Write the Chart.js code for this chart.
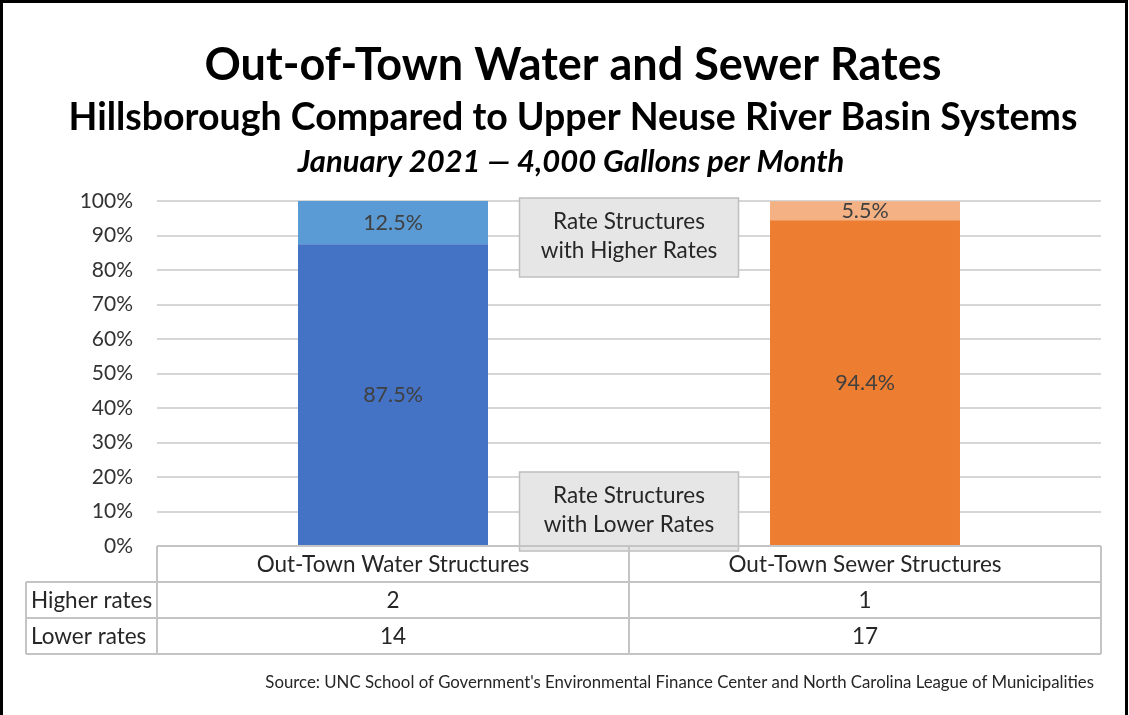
<!DOCTYPE html>
<html>
<head>
<meta charset="utf-8">
<script src="https://cdn.jsdelivr.net/npm/chart.js@4.4.0/dist/chart.umd.min.js"></script>
<style>
  html, body { margin: 0; padding: 0; background: #ffffff; }
  #wrap { width: 1129px; height: 715px; position: relative; }
</style>
</head>
<body>
<div id="wrap"><canvas id="c" width="1129" height="715"></canvas></div>
<script>
// Rate structure categories and their shares (percent of systems)
const categories = ['Out-Town Water Structures', 'Out-Town Sewer Structures'];
const lowerShare = [87.5, 94.4];
const higherShare = [12.5, 5.5];

// Counts shown in the data table beneath the plot
const tableRows = ['Higher rates', 'Lower rates'];
const higherCounts = [2, 1];
const lowerCounts = [14, 17];

// Y axis tick values
const yTickValues = [0, 10, 20, 30, 40, 50, 60, 70, 80, 90, 100];

// Headings, callouts and source line
const titleLines = [
  'Out-of-Town Water and Sewer Rates',
  'Hillsborough Compared to Upper Neuse River Basin Systems',
  'January 2021 \u2014 4,000 Gallons per Month'
];
const calloutHigher = ['Rate Structures', 'with Higher Rates'];
const calloutLower = ['Rate Structures', 'with Lower Rates'];
const sourceText = "Source: UNC School of Government's Environmental Finance Center and North Carolina League of Municipalities";

const FONT = 'Lato, "Open Sans", sans-serif';
const TEXT = '#262626';

const decor = {
  id: 'decor',
  afterDatasetsDraw(chart) {
    const ctx = chart.ctx;
    const area = chart.chartArea;
    const y = chart.scales.y;
    const cx = (area.left + area.right) / 2;

    // value labels centred in each bar segment
    ctx.save();
    ctx.font = '21.5px ' + FONT;
    ctx.fillStyle = '#404040';
    ctx.textAlign = 'center';
    ctx.textBaseline = 'middle';
    chart.data.datasets.forEach((ds, i) => {
      chart.getDatasetMeta(i).data.forEach((bar, j) => {
        const mid = (bar.y + bar.base) / 2;
        ctx.fillText(ds.data[j].toFixed(1) + '%', bar.x, mid);
      });
    });
    ctx.restore();

    // grey callout boxes
    const box = (top, lines) => {
      const w = 219, h = 79;
      ctx.save();
      ctx.fillStyle = '#e7e6e6';
      ctx.strokeStyle = '#bfbfbf';
      ctx.lineWidth = 1.5;
      ctx.fillRect(cx - w / 2, top, w, h);
      ctx.strokeRect(cx - w / 2, top, w, h);
      ctx.fillStyle = TEXT;
      ctx.font = '22.5px ' + FONT;
      ctx.textAlign = 'center';
      ctx.textBaseline = 'middle';
      ctx.fillText(lines[0], cx, top + 24);
      ctx.fillText(lines[1], cx, top + 53);
      ctx.restore();
    };
    box(y.getPixelForValue(100) - 3, calloutHigher);
    box(y.getPixelForValue(0) - 74, calloutLower);
  },
  afterDraw(chart) {
    const ctx = chart.ctx;
    const area = chart.chartArea;
    const W = chart.width;

    // outer frame
    ctx.save();
    ctx.strokeStyle = '#000000';
    ctx.lineWidth = 3;
    ctx.strokeRect(1.5, 1.5, W - 4, 730);
    ctx.restore();

    // headings
    ctx.save();
    ctx.fillStyle = '#000000';
    ctx.textAlign = 'center';
    ctx.textBaseline = 'alphabetic';
    ctx.font = 'bold 45px ' + FONT;
    ctx.fillText(titleLines[0], 573, 80);
    ctx.font = 'bold 37.5px ' + FONT;
    ctx.fillText(titleLines[1], 573, 130);
    ctx.font = 'italic bold 31px ' + FONT;
    ctx.fillText(titleLines[2], 571, 172);
    ctx.restore();

    // data table
    const top = area.bottom;
    const rowH = 36;
    const colMid = (area.left + area.right) / 2;
    const leftX = 26;
    ctx.save();
    ctx.strokeStyle = '#c4c4c4';
    ctx.lineWidth = 2;
    ctx.beginPath();
    // header row
    ctx.moveTo(area.left, top); ctx.lineTo(area.right, top);
    ctx.moveTo(area.left, top); ctx.lineTo(area.left, top + rowH * 3);
    ctx.moveTo(colMid, top); ctx.lineTo(colMid, top + rowH * 3);
    ctx.moveTo(area.right, top); ctx.lineTo(area.right, top + rowH * 3);
    // body rows
    for (let r = 1; r <= 3; r++) {
      ctx.moveTo(leftX, top + rowH * r); ctx.lineTo(area.right, top + rowH * r);
    }
    ctx.moveTo(leftX, top + rowH); ctx.lineTo(leftX, top + rowH * 3);
    ctx.stroke();

    ctx.fillStyle = TEXT;
    ctx.font = '22.5px ' + FONT;
    ctx.textBaseline = 'middle';
    const xs = chart.getDatasetMeta(0).data.map(b => b.x);
    ctx.textAlign = 'center';
    categories.forEach((c, j) => ctx.fillText(c, xs[j], top + rowH / 2 + 1));
    const rowsData = [higherCounts, lowerCounts];
    tableRows.forEach((label, r) => {
      const ry = top + rowH * (r + 1) + rowH / 2 + 1;
      ctx.textAlign = 'left';
      ctx.fillText(label, leftX + 5, ry);
      ctx.textAlign = 'center';
      rowsData[r].forEach((v, j) => ctx.fillText(String(v), xs[j], ry));
    });

    // source line
    ctx.font = '16.8px ' + FONT;
    ctx.textAlign = 'right';
    ctx.fillText(sourceText, 1094, 683);
    ctx.restore();
  }
};

new Chart(document.getElementById('c'), {
  type: 'bar',
  data: {
    labels: categories,
    datasets: [
      { label: 'Lower rates', data: lowerShare, backgroundColor: ['#4472C4', '#ED7D31'] },
      { label: 'Higher rates', data: higherShare, backgroundColor: ['#5B9BD5', '#F4B183'] }
    ]
  },
  options: {
    responsive: false,
    animation: false,
    layout: { padding: { top: 201, bottom: 169, left: 0, right: 28 } },
    datasets: { bar: { categoryPercentage: 1, barPercentage: 0.4025 } },
    plugins: { legend: { display: false }, tooltip: { enabled: false }, title: { display: false } },
    scales: {
      x: { stacked: true, display: false },
      y: {
        stacked: true,
        min: 0,
        max: 100,
        afterBuildTicks(scale) { scale.ticks = yTickValues.map(v => ({ value: v })); },
        afterFit(scale) { scale.width = 157; },
        ticks: {
          callback: v => v + '%',
          padding: 24,
          color: '#333333',
          font: { family: FONT, size: 21 }
        },
        grid: { color: '#d6d6d6', lineWidth: 2, drawTicks: false },
        border: { display: false }
      }
    }
  },
  plugins: [decor]
});
</script>
</body>
</html>
